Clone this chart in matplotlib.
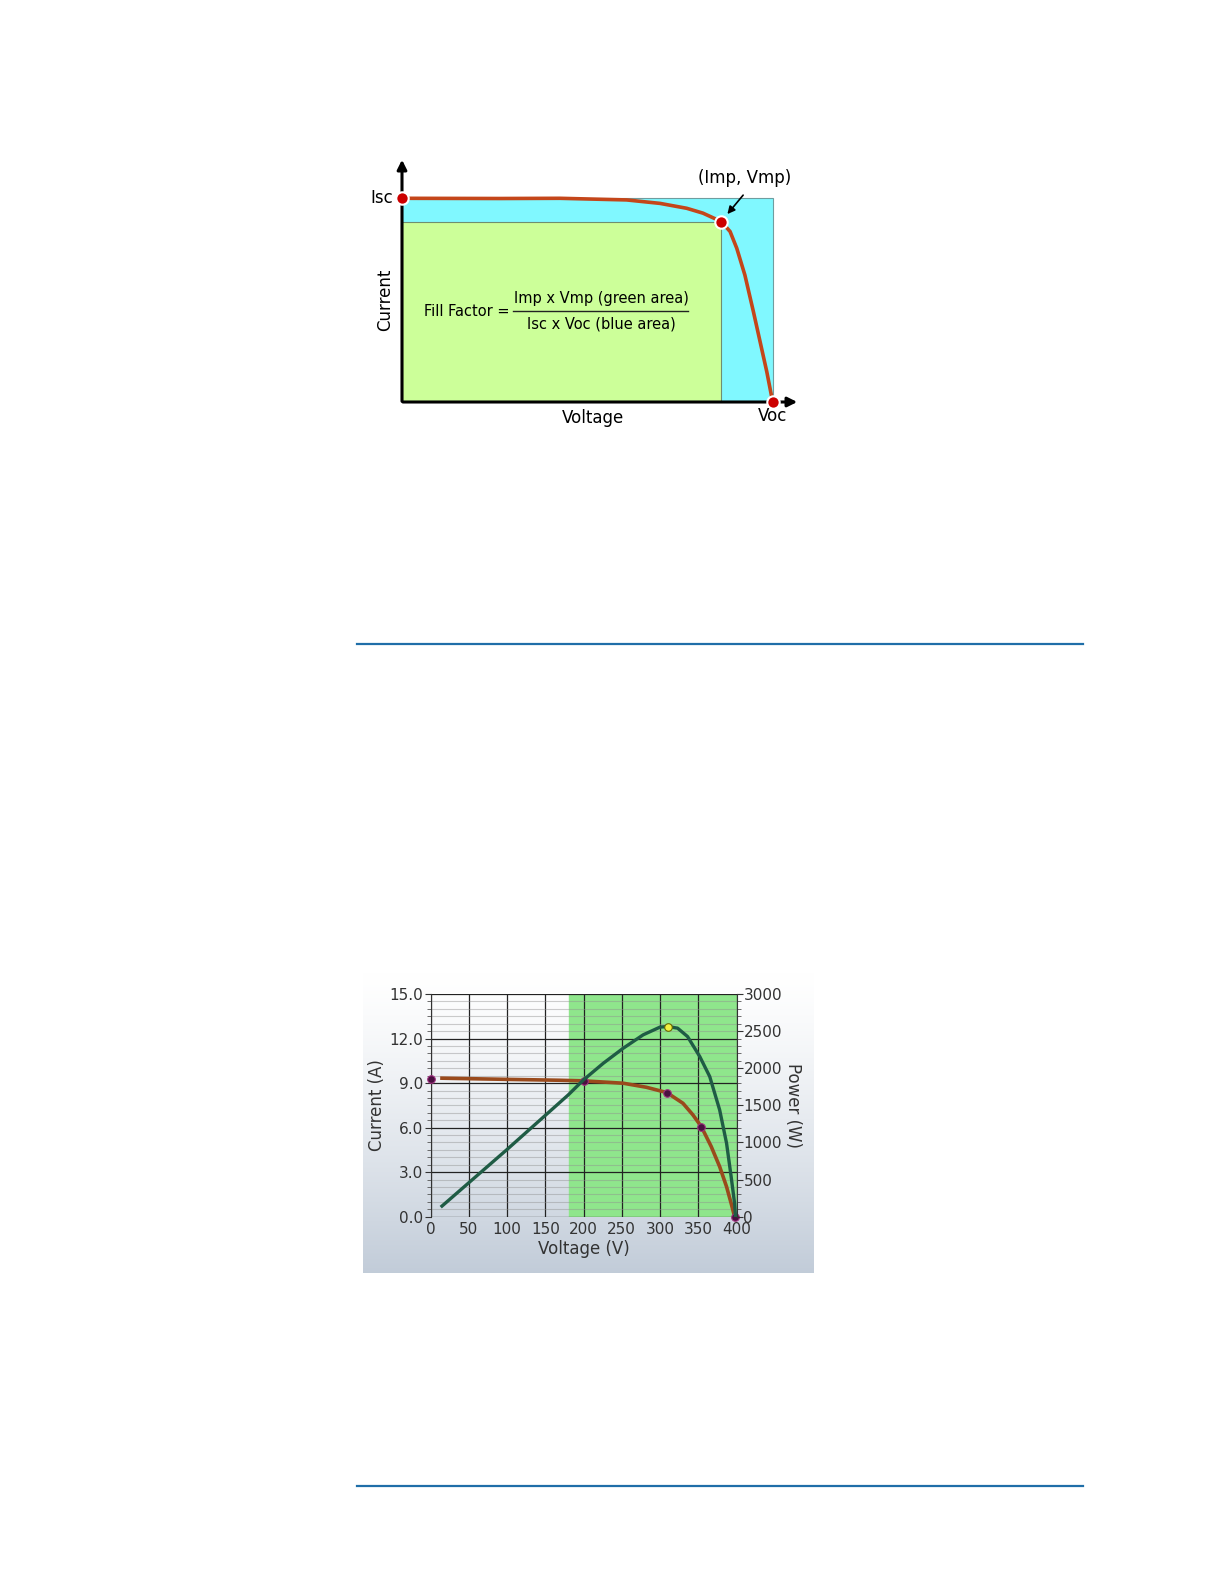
import numpy as np
import matplotlib
matplotlib.use('Agg')
import matplotlib.pyplot as plt
from matplotlib.patches import Rectangle
from matplotlib.ticker import MultipleLocator

W, H = 1224, 1584

# --- top diagram: normalised I-V curve (Voc = 1, Isc = 1)
iv_v = [0.0, 0.264, 0.426, 0.606, 0.696, 0.768, 0.812, 0.861, 0.885, 0.903, 0.925, 0.948, 0.966, 0.984, 1.0]
iv_i = [1.0, 0.999, 1.0, 0.992, 0.975, 0.951, 0.927, 0.886, 0.837, 0.755, 0.623, 0.443, 0.296, 0.149, 0.0]
vmp, imp = 0.861, 0.886

# --- bottom chart: string I-V and P-V curves
volt_i = [15, 100, 169, 200, 252, 282, 309, 330, 343, 354, 367, 378, 387, 393, 397.5]
current = [9.33, 9.25, 9.19, 9.15, 8.99, 8.72, 8.36, 7.64, 6.86, 6.07, 4.72, 3.37, 2.02, 0.90, 0.0]
volt_p = [15, 100, 180, 200, 226, 252, 278, 300, 310, 323, 336, 352, 365, 378, 387, 393, 397.5, 398.7]
power = [143, 905, 1640, 1843, 2068, 2270, 2450, 2554, 2562, 2540, 2427, 2157, 1888, 1438, 990, 539, 180, 0]
mark_v = [0, 200, 309, 354, 398]
mark_i = [9.3, 9.15, 8.36, 6.07, 0.0]
mpp_v, mpp_p = 310, 2562
mppt_window = (181, 400)
x_ticks = [0, 50, 100, 150, 200, 250, 300, 350, 400]
i_ticks = [0.0, 3.0, 6.0, 9.0, 12.0, 15.0]
p_ticks = [0, 500, 1000, 1500, 2000, 2500, 3000]


def px_rect(x0, y0, x1, y1):
    return [x0 / W, 1 - y1 / H, (x1 - x0) / W, (y1 - y0) / H]


def ftext(x, y, s, **kw):
    fig.text(x / W, 1 - y / H, s, **kw)


fig = plt.figure(figsize=(W / 100, H / 100), dpi=100)
fig.patch.set_facecolor('white')
plt.rcParams['font.family'] = 'DejaVu Sans'

# page rules
for yy in (644, 1486):
    fig.add_artist(plt.Line2D([357 / W, 1083 / W], [1 - yy / H, 1 - yy / H],
                              color='#1f6ea8', lw=1.6))

# ---------------- top: fill factor diagram ----------------
# axes origin at (402, 402) px, Voc at x=772.7, Isc at y=198.3
ax = fig.add_axes(px_rect(402, 157, 800, 402))
ax.set_xlim(0, 398 / 370.7)
ax.set_ylim(0, 245 / 203.7)
ax.axis('off')

ax.add_patch(Rectangle((0, 0), 1.0, 1.0, facecolor='#80f8ff', edgecolor='#6f9da0', lw=0.8, zorder=1))
ax.add_patch(Rectangle((0, 0), vmp, imp, facecolor='#ccff99', edgecolor='#6f8f70', lw=0.8, zorder=2))
ax.plot(iv_v, iv_i, color='#c4461a', lw=2.6, zorder=4, solid_capstyle='round', solid_joinstyle='round')
ax.scatter([0, vmp, 1.0], [1.0, imp, 0.0], s=80, color='#cc0000', edgecolor='white',
           linewidth=1.5, zorder=6, clip_on=False)
ax.annotate('', xy=(398 / 370.7, 0), xytext=(-0.005, 0),
            arrowprops=dict(arrowstyle='-|>', color='black', lw=2.2, mutation_scale=14),
            annotation_clip=False, zorder=5)
ax.annotate('', xy=(0, 245 / 203.7), xytext=(0, -0.01),
            arrowprops=dict(arrowstyle='-|>', color='black', lw=2.2, mutation_scale=14),
            annotation_clip=False, zorder=5)
ax.annotate('', xy=(0.873, 0.912), xytext=(0.925, 1.026),
            arrowprops=dict(arrowstyle='-|>', color='black', lw=1.2, mutation_scale=11),
            annotation_clip=False, zorder=5)

ftext(382, 198, 'Isc', fontsize=12, ha='center', va='center')
ftext(385, 300, 'Current', fontsize=12, rotation=90, ha='center', va='center')
ftext(593, 418, 'Voltage', fontsize=12, ha='center', va='center')
ftext(773, 416, 'Voc', fontsize=12, ha='center', va='center')
ftext(745, 178, '(Imp, Vmp)', fontsize=12, ha='center', va='center')
ftext(467, 312, 'Fill Factor =', fontsize=10.5, ha='center', va='center')
ftext(601, 298, 'Imp x Vmp (green area)', fontsize=10.5, ha='center', va='center')
ftext(601, 324, 'Isc x Voc (blue area)', fontsize=10.5, ha='center', va='center')
fig.add_artist(plt.Line2D([513 / W, 688 / W], [1 - 311 / H, 1 - 311 / H], color='#222222', lw=1.0))

# ---------------- bottom: I-V / P-V chart ----------------
bg = fig.add_axes(px_rect(363, 972, 813, 1273))
grad = np.linspace(0, 1, 256) ** 1.3
top_c = np.array([1.0, 1.0, 1.0])
bot_c = np.array([0.76, 0.80, 0.85])
img = top_c[None, :] * (1 - grad[:, None]) + bot_c[None, :] * grad[:, None]
bg.imshow(img[:, None, :], aspect='auto', extent=(0, 1, 0, 1))
bg.axis('off')

ax1 = fig.add_axes(px_rect(430.5, 994, 736.5, 1216.7))
ax1.patch.set_alpha(0)
ax1.set_xlim(0, 400)
ax1.set_ylim(0, 15)
ax1.axvspan(*mppt_window, color='#8fe68c', zorder=0)
ax1.yaxis.set_minor_locator(MultipleLocator(0.5))
ax1.set_xticks(x_ticks)
ax1.set_yticks(i_ticks)
ax1.set_yticklabels([f'{t:.1f}' for t in i_ticks])
ax1.grid(which='minor', axis='y', color='#909090', lw=0.8, alpha=0.45)
ax1.grid(which='major', color='#222222', lw=0.9)
ax1.set_axisbelow(True)
for s in ('top', 'right', 'bottom'):
    ax1.spines[s].set_visible(False)
ax1.spines['left'].set_color('#333333')
ax1.tick_params(axis='both', which='major', labelsize=11, colors='#333333', length=4, pad=1)
ax1.tick_params(axis='y', which='minor', length=3, color='#555555')
ax1.tick_params(axis='x', length=0, pad=4)
ax1.set_xlabel('Voltage (V)', fontsize=12, color='#333333', labelpad=2)
ax1.set_ylabel('Current (A)', fontsize=12, color='#333333')
ax1.yaxis.set_label_coords(-0.145, 0.5)

ax2 = ax1.twinx()
ax2.set_ylim(0, 3000)
ax2.set_yticks(p_ticks)
ax2.yaxis.set_minor_locator(MultipleLocator(100))
for s in ('top', 'left', 'bottom'):
    ax2.spines[s].set_visible(False)
ax2.spines['right'].set_color('#333333')
ax2.tick_params(axis='y', which='major', labelsize=11, colors='#333333', length=4, pad=1)
ax2.tick_params(axis='y', which='minor', length=3, color='#555555')
ax2.set_ylabel('Power (W)', fontsize=12, color='#333333', rotation=-90, va='center')
ax2.yaxis.set_label_coords(1.185, 0.5)

ax2.plot(volt_p, power, color='#1f5c45', lw=2.4, zorder=3, solid_joinstyle='round')
ax1.plot(volt_i, current, color='#9a4a1c', lw=2.6, zorder=3, solid_joinstyle='round')
ax1.scatter(mark_v, mark_i, s=30, color='#4a1040', edgecolor='#a03080', linewidth=0.8,
            zorder=5, clip_on=False)
ax2.scatter([mpp_v], [mpp_p], s=30, color='#f2f040', edgecolor='#666600', linewidth=0.8, zorder=5)

fig.savefig('out.png', dpi=100, facecolor='white')
